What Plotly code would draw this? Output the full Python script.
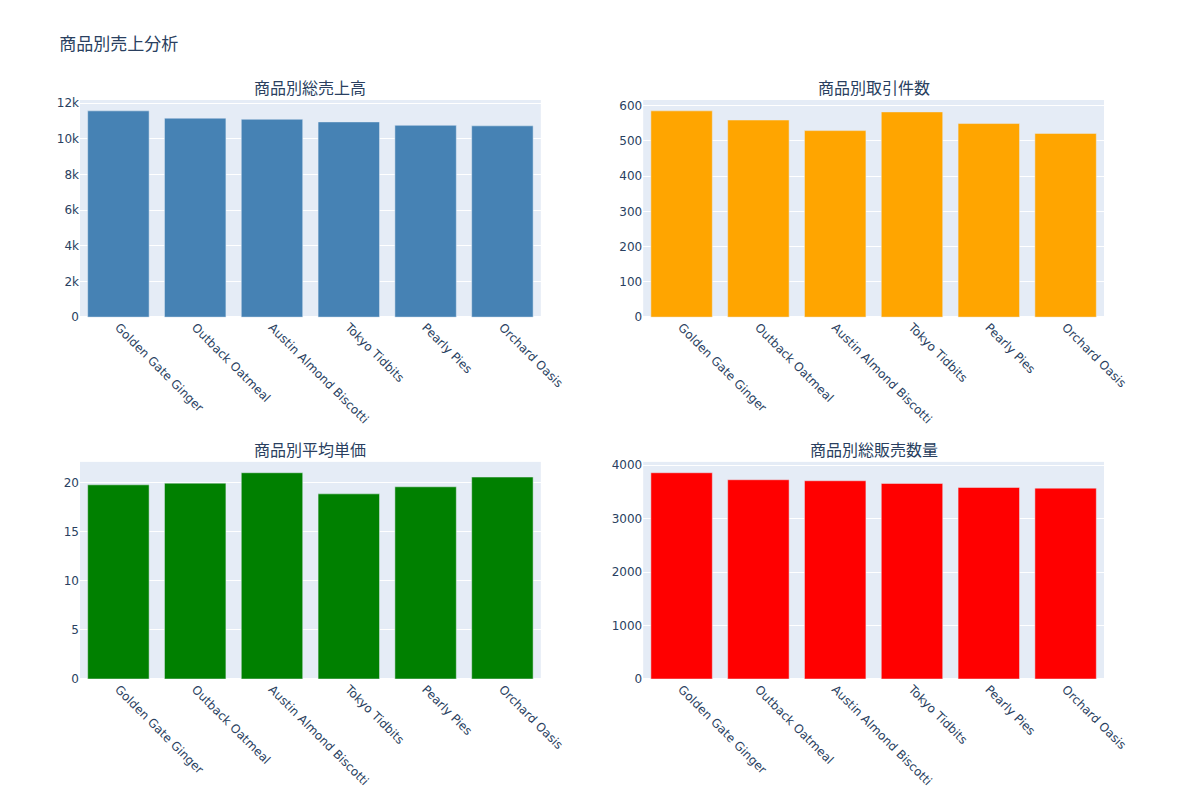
import plotly.graph_objects as go
from plotly.subplots import make_subplots

products = ["Golden Gate Ginger", "Outback Oatmeal", "Austin Almond Biscotti",
            "Tokyo Tidbits", "Pearly Pies", "Orchard Oasis"]
total_sales = [11570, 11160, 11100, 10950, 10760, 10730]
transactions = [585, 559, 529, 582, 549, 521]
avg_price = [19.76, 19.93, 20.99, 18.84, 19.56, 20.55]
total_qty = [3856, 3725, 3706, 3656, 3581, 3568]

titles = ["商品別総売上高", "商品別取引件数", "商品別平均単価", "商品別総販売数量"]

fig = make_subplots(rows=2, cols=2, subplot_titles=titles)
fig.add_trace(go.Bar(x=products, y=total_sales, marker_color="steelblue", name="総売上高"), row=1, col=1)
fig.add_trace(go.Bar(x=products, y=transactions, marker_color="orange", name="取引件数"), row=1, col=2)
fig.add_trace(go.Bar(x=products, y=avg_price, marker_color="green", name="平均単価"), row=2, col=1)
fig.add_trace(go.Bar(x=products, y=total_qty, marker_color="red", name="総販売数量"), row=2, col=2)

fig.update_xaxes(tickangle=45)
fig.update_layout(
    title_text="商品別売上分析",
    showlegend=False,
    width=1184,
    height=800,
    font=dict(family="DejaVu Sans, Noto Sans CJK JP, sans-serif"),
)
fig.write_html("out.html")
